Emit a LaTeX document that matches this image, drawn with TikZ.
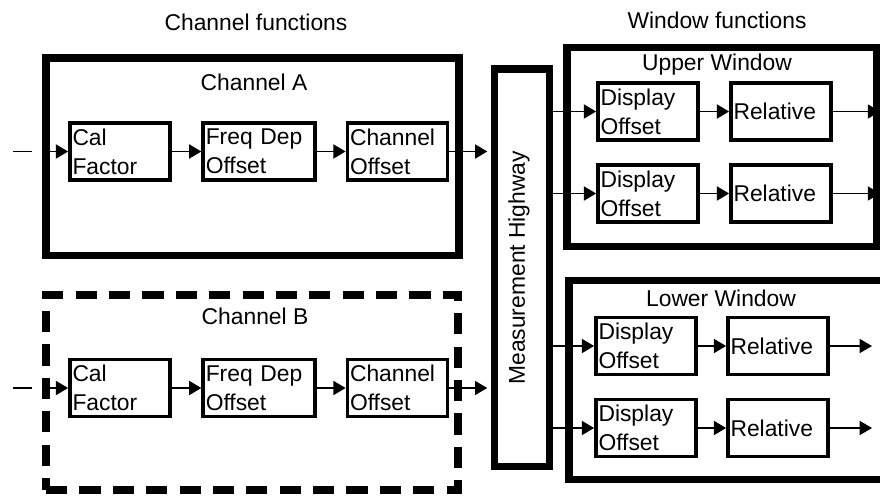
\documentclass[tikz,border=0pt]{standalone}
\usepackage{fontspec}
\setmainfont{Liberation Sans}
\usetikzlibrary{arrows.meta,positioning}

\begin{document}
\begin{tikzpicture}[x=0.02cm, y=-0.02cm,
  font=\fontsize{13}{16.5}\selectfont, >={Triangle[length=7pt,width=8pt]},
  frame/.style={draw, line width=4.2pt, inner sep=0pt},
  dashframe/.style={frame, line width=4.5pt, dash pattern=on 12pt off 7pt},
  fn/.style={draw, line width=2pt, minimum height=1.14cm, inner xsep=1.5pt, inner ysep=0pt, align=left, text width=#1},
  fn/.default=1.9cm,
  flow/.style={->, line width=1.1pt},
  outflow/.style={->, line width=0.7pt},
  ttl/.style={inner sep=0pt}]
\useasboundingbox (0,0) rectangle (880,498);
% headings
\node[ttl] (chfun) at (256,22) {Channel functions};
\node[ttl] (winfun) at (717,20) {Window functions};
% ---------------- channel A ----------------
\node[frame, minimum width=8.26cm, minimum height=3.95cm] (chA) at (252.5,156.75) {};
\node[ttl] (chAl) at (254,82) {Channel A};
\node[fn] (calA) at (120,151.5) {Cal\\Factor};
\node[fn=2.13cm] (fdoA) at (259,151.5) {Freq Dep\\Offset};
\node[fn] (choA) at (397.5,151.5) {Channel\\Offset};
\coordinate (inA) at (13,151.5);
\coordinate (inAe) at (32,151.5);
% ---------------- channel B ----------------
\node[dashframe, minimum width=8.24cm, minimum height=3.9cm] (chB) at (252,392.5) {};
\node[ttl] (chBl) at (255,316) {Channel B};
\node[fn] (calB) at (120,388) {Cal\\Factor};
\node[fn=2.13cm] (fdoB) at (259,388) {Freq Dep\\Offset};
\node[fn] (choB) at (397.5,388) {Channel\\Offset};
\coordinate (inB) at (13,388);
\coordinate (inBe) at (32,388);
% ---------------- highway ----------------
\node[frame, minimum width=1.1cm, minimum height=7.95cm] (hwy) at (522,267.75) {};
\node[ttl, rotate=90] (hwyl) at (519,267.75) {Measurement Highway};
% ---------------- upper window ----------------
\node[frame, minimum width=6.19cm, minimum height=3.98cm] (upW) at (721.75,147) {};
\node[ttl] (upWl) at (717,65) {Upper Window};
\node[fn] (dispU1) at (648,111.5) {Display\\Offset};
\node[fn] (relU1) at (781,111.5) {Relative};
\node[fn] (dispU2) at (648,193.5) {Display\\Offset};
\node[fn] (relU2) at (781,193.5) {Relative};
% ---------------- lower window ----------------
\node[frame, minimum width=6.34cm, minimum height=3.98cm] (loW) at (727.5,380) {};
\node[ttl] (loWl) at (721,298) {Lower Window};
\node[fn] (dispL1) at (646,346) {Display\\Offset};
\node[fn] (relL1) at (778,346) {Relative};
\node[fn] (dispL2) at (646,428) {Display\\Offset};
\node[fn] (relL2) at (778,428) {Relative};
\coordinate (outL1) at (872,346);
\coordinate (outL2) at (872,428);
% connectors
\draw[line width=1.1pt] (inA) -- (inAe);
\draw[flow] (chA.west |- calA) -- (calA);
\draw[flow] (calA) -- (fdoA);
\draw[flow] (fdoA) -- (choA);
\draw[flow, shorten >=2pt] (choA) -- (choA -| hwy.west);
\draw[line width=1.1pt] (inB) -- (inBe);
\draw[flow] (chB.west |- calB) -- (calB);
\draw[flow] (calB) -- (fdoB);
\draw[flow] (fdoB) -- (choB);
\draw[outflow, shorten >=2pt] (choB) -- (choB -| hwy.west);
\draw[flow] (hwy.east |- dispU1) -- (dispU1);
\draw[flow] (hwy.east |- dispU2) -- (dispU2);
\draw[flow] (hwy.east |- dispL1) -- (dispL1);
\draw[flow] (hwy.east |- dispL2) -- (dispL2);
\draw[flow] (dispU1) -- (relU1);
\draw[flow] (dispU2) -- (relU2);
\draw[flow] (dispL1) -- (relL1);
\draw[flow] (dispL2) -- (relL2);
\draw[outflow] (relU1) -- (relU1 -| upW.east);
\draw[outflow] (relU2) -- (relU2 -| upW.east);
\draw[outflow] (relL1) -- (outL1);
\draw[outflow] (relL2) -- (outL2);
\end{tikzpicture}
\end{document}
